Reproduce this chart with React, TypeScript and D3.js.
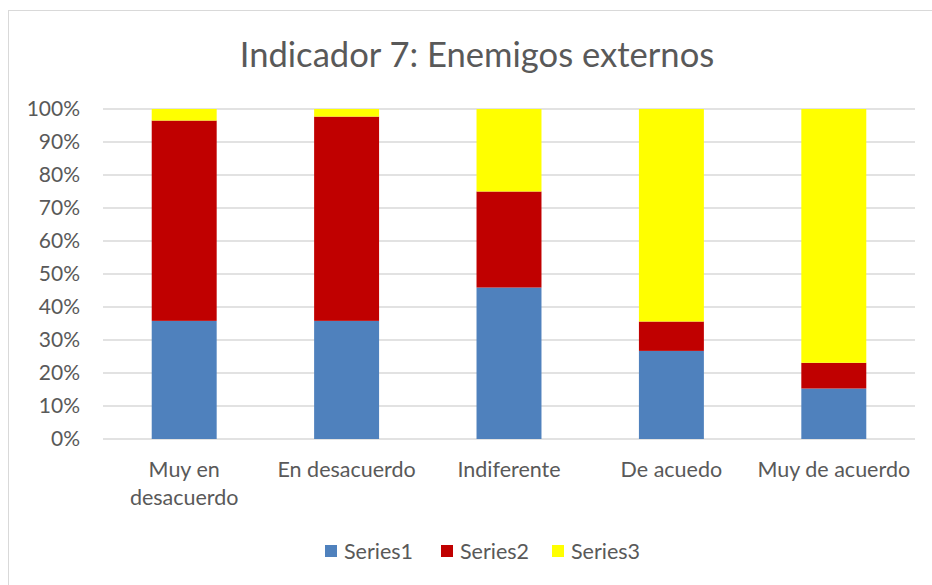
import React, { useEffect, useRef } from 'react';
import * as d3 from 'd3';

const categories = ['Muy en desacuerdo', 'En desacuerdo', 'Indiferente', 'De acuedo', 'Muy de acuerdo'];
const series1 = [35.8, 35.8, 45.9, 26.7, 15.3];
const series2 = [60.7, 61.9, 29.1, 8.9, 7.8];
const series3 = [3.5, 2.3, 25.0, 64.4, 76.9];
const seriesNames = ['Series1', 'Series2', 'Series3'];
const colors = ['#4f81bd', '#c00000', '#ffff00'];
const yTicks = [0, 0.1, 0.2, 0.3, 0.4, 0.5, 0.6, 0.7, 0.8, 0.9, 1];

// category labels split the way the picture wraps them
const labelLines: Record<string, string[]> = {
  'Muy en desacuerdo': ['Muy en', 'desacuerdo'],
};

const font = 'Lato, "Open Sans", sans-serif';

export default function App() {
  const ref = useRef<SVGSVGElement>(null);

  useEffect(() => {
    const W = 932;
    const H = 585;
    const m = { top: 109, left: 103, right: 17, bottom: 146 };

    const svg = d3.select(ref.current);
    svg.selectAll('*').remove();

    svg.append('rect')
      .attr('width', W).attr('height', H).attr('fill', '#fff');
    // chart border
    svg.append('rect')
      .attr('x', 8.5).attr('y', 10.5)
      .attr('width', W).attr('height', H)
      .attr('fill', 'none').attr('stroke', '#d9d9d9');

    const x = d3.scaleBand<string>()
      .domain(categories)
      .range([m.left, W - m.right])
      .paddingInner(0.6)
      .paddingOuter(0.3);

    const y = d3.scaleLinear()
      .domain([0, 1])
      .range([H - m.bottom, m.top]);

    // title
    svg.append('text')
      .attr('x', 477).attr('y', 67)
      .attr('text-anchor', 'middle')
      .attr('font-family', font)
      .attr('font-size', 34.6)
      .attr('fill', '#595959')
      .text('Indicador 7: Enemigos externos');

    // grid
    svg.append('g')
      .selectAll('line')
      .data(yTicks)
      .enter()
      .append('line')
      .attr('x1', m.left).attr('x2', W - m.right)
      .attr('y1', d => y(d)).attr('y2', d => y(d))
      .attr('stroke', '#d9d9d9')
      .attr('stroke-width', 1.3);

    // y labels
    svg.append('g')
      .selectAll('text')
      .data(yTicks)
      .enter()
      .append('text')
      .attr('x', 80)
      .attr('y', d => y(d))
      .attr('dy', '0.35em')
      .attr('text-anchor', 'end')
      .attr('font-family', font)
      .attr('font-size', 21)
      .attr('fill', '#595959')
      .text(d => d3.format('.0%')(d));

    // stacked bars
    const rows = categories.map((c, i) => ({
      cat: c,
      Series1: series1[i],
      Series2: series2[i],
      Series3: series3[i],
    }));
    const stack = d3.stack<any>()
      .keys(seriesNames)
      .offset(d3.stackOffsetExpand);
    const layers = stack(rows);

    svg.append('g')
      .selectAll('g')
      .data(layers)
      .enter()
      .append('g')
      .attr('fill', (d, i) => colors[i])
      .selectAll('rect')
      .data(d => d)
      .enter()
      .append('rect')
      .attr('x', d => x(d.data.cat) as number)
      .attr('width', x.bandwidth())
      .attr('y', d => y(d[1]))
      .attr('height', d => y(d[0]) - y(d[1]));

    // x labels
    const xl = svg.append('g')
      .selectAll('text')
      .data(categories)
      .enter()
      .append('text')
      .attr('text-anchor', 'middle')
      .attr('font-family', font)
      .attr('font-size', 21.5)
      .attr('fill', '#595959')
      .attr('x', d => (x(d) as number) + x.bandwidth() / 2)
      .attr('y', 477);
    xl.each(function (d) {
      const lines = labelLines[d] || [d];
      const t = d3.select(this);
      lines.forEach((l, i) => {
        t.append('tspan')
          .attr('x', (x(d) as number) + x.bandwidth() / 2)
          .attr('dy', i === 0 ? 0 : 28)
          .text(l);
      });
    });

    // legend
    const legendX = [325, 441, 552];
    const lg = svg.append('g');
    seriesNames.forEach((s, i) => {
      lg.append('rect')
        .attr('x', legendX[i]).attr('y', 545)
        .attr('width', 12).attr('height', 12)
        .attr('fill', colors[i]);
      lg.append('text')
        .attr('x', legendX[i] + 19).attr('y', 551)
        .attr('dy', '0.35em')
        .attr('font-family', font)
        .attr('font-size', 21.5)
        .attr('fill', '#595959')
        .text(s);
    });
  }, []);

  return (
    <svg
      ref={ref}
      width={932}
      height={585}
      style={{ position: 'absolute', left: 0, top: 0 }}
    />
  );
}
